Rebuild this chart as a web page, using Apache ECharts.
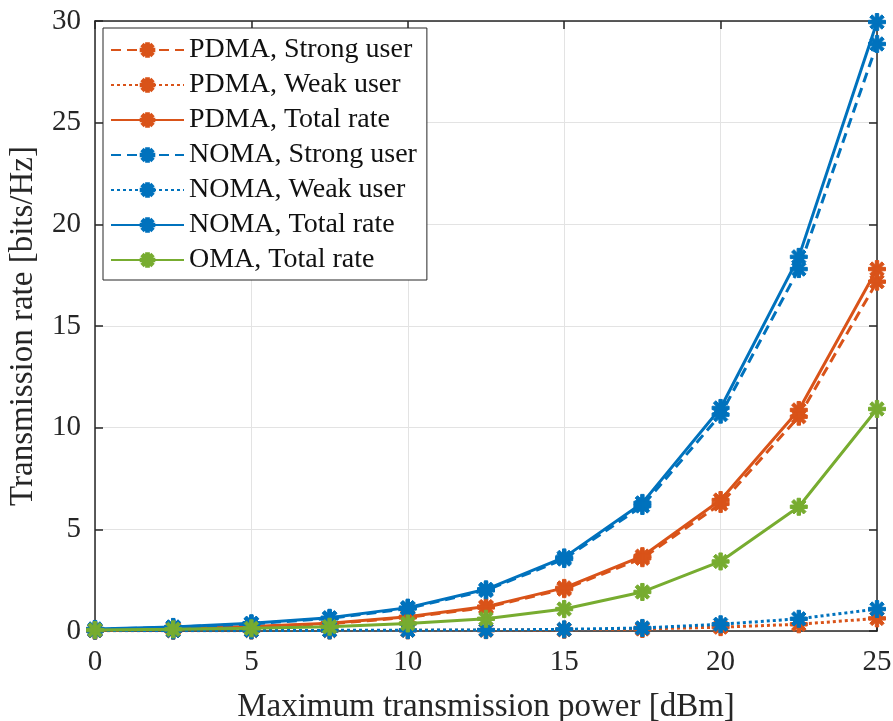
<!DOCTYPE html>
<html><head><meta charset="utf-8">
<script src="https://cdn.jsdelivr.net/npm/echarts@6/dist/echarts.min.js"></script>
<style>html,body{margin:0;padding:0;background:#fff}#c{width:893px;height:721px}</style>
</head><body><div id="c"></div>
<script>
const power = [0, 2.5, 5, 7.5, 10, 12.5, 15, 17.5, 20, 22.5, 25];
const pdmaStrong = [0.04, 0.11, 0.20, 0.36, 0.67, 1.16, 2.06, 3.58, 6.25, 10.54, 17.18];
const pdmaWeak   = [0.01, 0.01, 0.02, 0.02, 0.03, 0.04, 0.06, 0.10, 0.19, 0.33, 0.62];
const pdmaTotal  = [0.05, 0.12, 0.22, 0.38, 0.70, 1.20, 2.12, 3.68, 6.44, 10.87, 17.80];
const nomaStrong = [0.08, 0.18, 0.35, 0.62, 1.11, 2.00, 3.54, 6.15, 10.64, 17.80, 28.87];
const nomaWeak   = [0.02, 0.02, 0.03, 0.03, 0.04, 0.05, 0.08, 0.15, 0.33, 0.60, 1.08];
const nomaTotal  = [0.10, 0.20, 0.38, 0.65, 1.15, 2.05, 3.62, 6.30, 10.97, 18.40, 29.95];
const omaTotal   = [0.05, 0.08, 0.13, 0.21, 0.37, 0.60, 1.08, 1.92, 3.42, 6.11, 10.92];
const seriesNames = ['PDMA, Strong user','PDMA, Weak user','PDMA, Total rate','NOMA, Strong user','NOMA, Weak user','NOMA, Total rate','OMA, Total rate'];
const xTicks = [0, 5, 10, 15, 20, 25];
const yTicks = [0, 5, 10, 15, 20, 25, 30];

const ORANGE = '#D95319', BLUE = '#0072BD', GREEN = '#77AC30';
const star = 'path://M-2,-10 L2,-10 L2,10 L-2,10 Z M-10,-2 L10,-2 L10,2 L-10,2 Z M-5.66,-8.49 L8.49,5.66 L5.66,8.49 L-8.49,-5.66 Z M-8.49,5.66 L5.66,-8.49 L8.49,-5.66 L-5.66,8.49 Z';
const FONT = 'Liberation Serif';

function mk(name, vals, color, type, z) {
  return {
    name: name, type: 'line', z: z,
    data: power.map((p, i) => [p, vals[i]]),
    symbol: star, symbolSize: 17, showSymbol: true,
    lineStyle: { color: color, width: 3, type: type },
    itemStyle: { color: color, borderColor: color, borderWidth: 1 },
    emphasis: { disabled: true }, animation: false
  };
}
const axisCommon = {
  axisLine: { show: true, onZero: false, lineStyle: { color: '#262626', width: 1.5 } },
  axisTick: { show: true, inside: true, length: 8, lineStyle: { color: '#262626', width: 1.5 } }
};
const chart = echarts.init(document.getElementById('c'), null, { renderer: 'canvas' });
chart.setOption({
  backgroundColor: '#fff',
  animation: false,
  textStyle: { fontFamily: FONT },
  grid: { left: 95, right: 16, top: 21, bottom: 90, containLabel: false, outerBoundsMode: 'none' },
  legend: {
    orient: 'vertical', left: 103, top: 28,
    data: seriesNames,
    itemWidth: 73, itemHeight: 17, itemGap: 5,
    padding: [7, 10, 5, 7],
    backgroundColor: '#fff', borderColor: '#262626', borderWidth: 1,
    textStyle: { fontFamily: FONT, fontSize: 28, color: '#111', lineHeight: 30 }
  },
  xAxis: [Object.assign({
    type: 'value', min: 0, max: 25, interval: 5,
    name: 'Maximum transmission power [dBm]', nameLocation: 'middle', nameGap: 60,
    nameTextStyle: { fontFamily: FONT, fontSize: 33, color: '#262626' },
    axisLabel: { fontFamily: FONT, fontSize: 29, color: '#262626', margin: 17 },
    splitLine: { show: true, lineStyle: { color: '#e3e3e3', width: 1 } }
  }, axisCommon), Object.assign({
    type: 'value', position: 'top', min: 0, max: 25, interval: 5,
    axisLabel: { show: false }, splitLine: { show: false }
  }, axisCommon)],
  yAxis: [Object.assign({
    type: 'value', min: 0, max: 30, interval: 5,
    name: 'Transmission rate [bits/Hz]', nameLocation: 'middle', nameGap: 55,
    nameTextStyle: { fontFamily: FONT, fontSize: 33, color: '#262626' },
    axisLabel: { fontFamily: FONT, fontSize: 29, color: '#262626', margin: 14 },
    splitLine: { show: true, lineStyle: { color: '#e3e3e3', width: 1 } }
  }, axisCommon), Object.assign({
    type: 'value', position: 'right', min: 0, max: 30, interval: 5,
    axisLabel: { show: false }, splitLine: { show: false }
  }, axisCommon)],
  series: [
    mk(seriesNames[0], pdmaStrong, ORANGE, [10, 6], 3),
    mk(seriesNames[1], pdmaWeak, ORANGE, [3, 3], 3),
    mk(seriesNames[2], pdmaTotal, ORANGE, 'solid', 3),
    mk(seriesNames[3], nomaStrong, BLUE, [10, 6], 4),
    mk(seriesNames[4], nomaWeak, BLUE, [3, 3], 4),
    mk(seriesNames[5], nomaTotal, BLUE, 'solid', 4),
    mk(seriesNames[6], omaTotal, GREEN, 'solid', 5)
  ]
});
</script></body></html>
